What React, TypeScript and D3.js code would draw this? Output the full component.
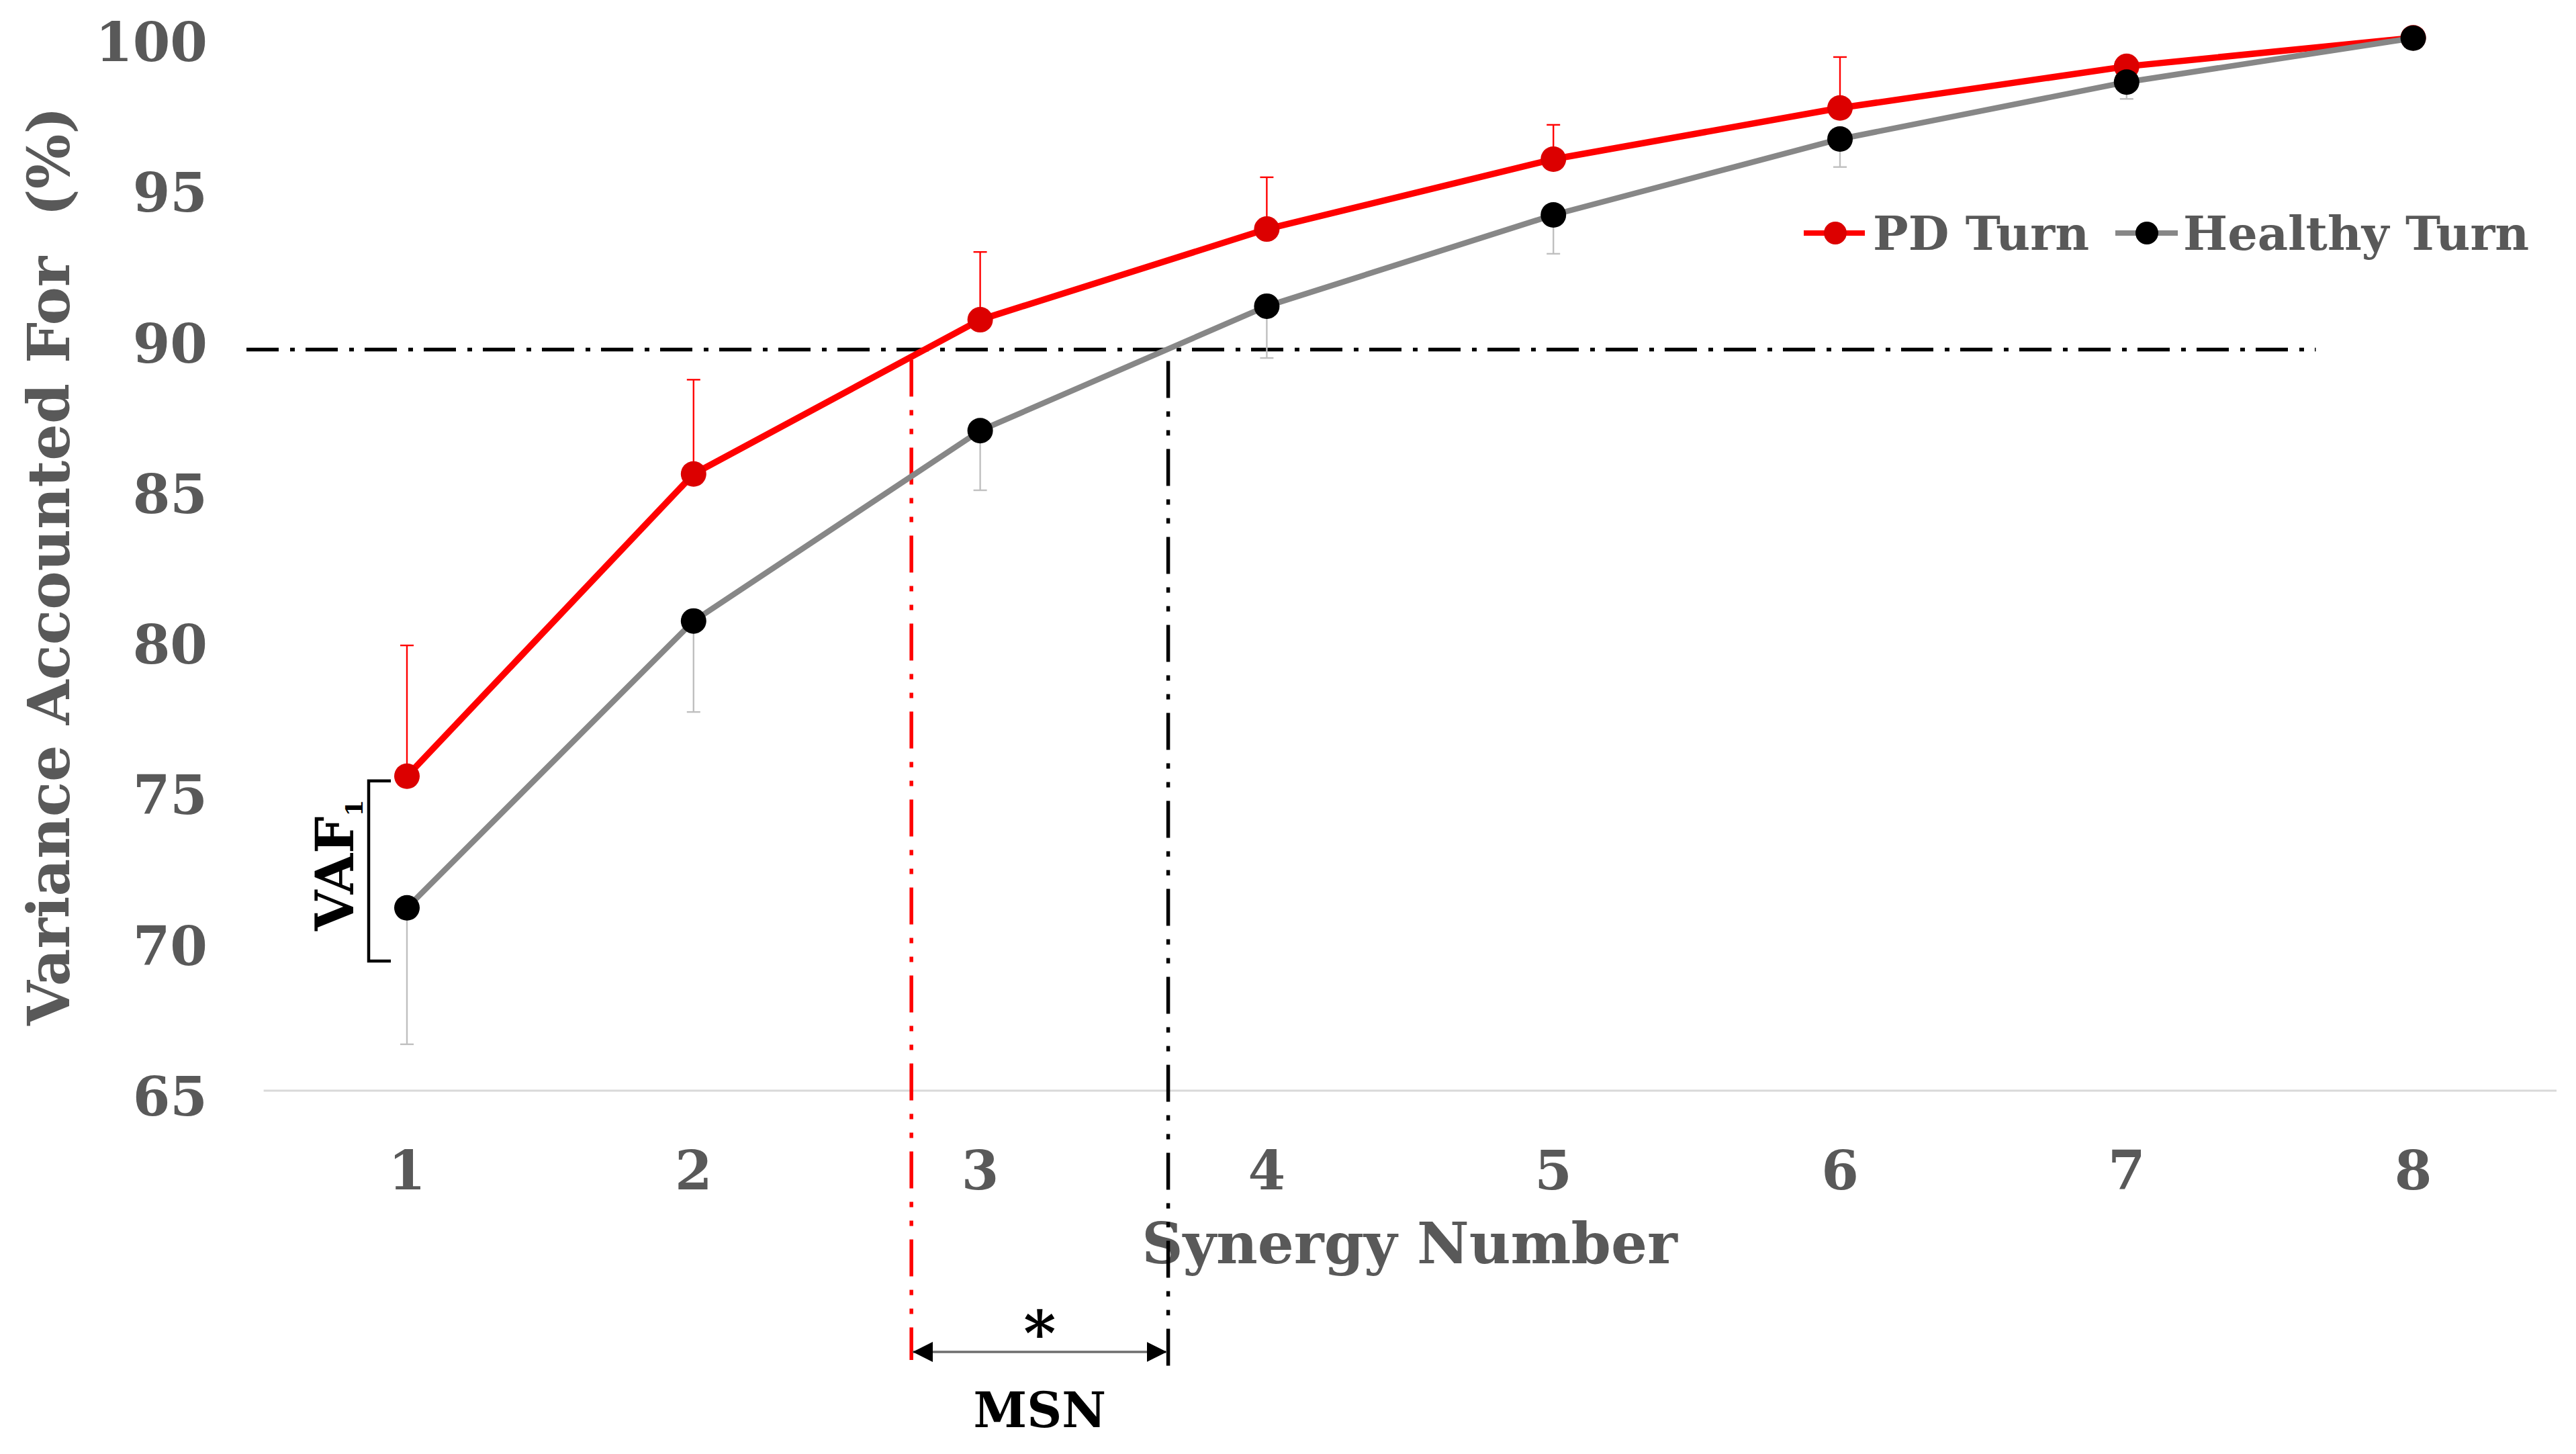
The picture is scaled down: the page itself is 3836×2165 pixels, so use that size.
import * as d3 from "d3";

const WIDTH = 3836;
const HEIGHT = 2165;

// Synergy count on the x axis, VAF (%) per group
const SYNERGY = [1, 2, 3, 4, 5, 6, 7, 8];
const PD_VAF = [75.44, 85.47, 90.59, 93.6, 95.92, 97.62, 99.0, 99.95];
const PD_SD = [4.34, 3.13, 2.25, 1.72, 1.14, 1.69, 0.3, 0];
const HEALTHY_VAF = [71.07, 80.59, 86.91, 91.04, 94.07, 96.59, 98.48, 99.94];
const HEALTHY_SD = [4.53, 3.02, 1.98, 1.72, 1.29, 0.93, 0.56, 0];
const Y_TICKS = [65, 70, 75, 80, 85, 90, 95, 100];

// 90% threshold guide and the synergy number where each curve crosses it
const THRESHOLD = 89.6;
const THRESHOLD_SPAN = [0.44, 7.66];
const PD_MSN = 2.76;
const HEALTHY_MSN = 3.656;
const VAF1_BRACKET = [75.28, 69.3];

const FONT = "'DejaVu Serif', Georgia, serif";
const TEXT_GREY = "#595959";
const RED = "#ff0000";
const RED_MARK = "#dc0000";
const GREY_LINE = "#878787";
const GREY_BAR = "#bfbfbf";

const x = d3.scalePoint<number>().domain(SYNERGY).range([392.6, 3807]).padding(0.5);
const xv = d3
  .scaleLinear()
  .domain([1, 8])
  .range([x(1) as number, x(8) as number]);
const y = d3.scaleLinear().domain([65, 100]).range([1624, 54]);

const line = d3
  .line<number>()
  .x((_, i) => x(SYNERGY[i]) as number)
  .y((d) => y(d));

function ErrorBars({ values, sd, dir, color }: { values: number[]; sd: number[]; dir: 1 | -1; color: string }) {
  return (
    <g stroke={color} strokeWidth={2.4}>
      {values.map((v, i) => {
        if (sd[i] <= 0) return null;
        const cx = x(SYNERGY[i]) as number;
        const end = y(v + dir * sd[i]);
        return (
          <g key={i}>
            <line x1={cx} x2={cx} y1={y(v)} y2={end} />
            <line x1={cx - 10} x2={cx + 10} y1={end} y2={end} />
          </g>
        );
      })}
    </g>
  );
}

function Series({ values, lineColor, markColor, width }: { values: number[]; lineColor: string; markColor: string; width: number }) {
  return (
    <g>
      <path d={line(values) ?? ""} fill="none" stroke={lineColor} strokeWidth={width} strokeLinejoin="round" />
      {values.map((v, i) => (
        <circle key={i} cx={x(SYNERGY[i])} cy={y(v)} r={19} fill={markColor} />
      ))}
    </g>
  );
}

export default function App() {
  const arrowY = 2013;
  const redX = xv(PD_MSN);
  const blackX = xv(HEALTHY_MSN);
  const bracketX = 549;

  return (
    <svg
      width={WIDTH}
      height={HEIGHT}
      viewBox={`0 0 ${WIDTH} ${HEIGHT}`}
      style={{ position: "absolute", left: 0, top: 0, background: "#fff" }}
      fontFamily={FONT}
      fontWeight="bold"
    >
      <defs>
        <marker id="head" viewBox="0 0 10 10" refX="10" refY="5" markerWidth="30" markerHeight="30" markerUnits="userSpaceOnUse" orient="auto-start-reverse">
          <path d="M0,0 L10,5 L0,10 Z" fill="#000" />
        </marker>
      </defs>
      <rect width={WIDTH} height={HEIGHT} fill="#fff" />

      {/* baseline at 65 */}
      <line x1={392.6} x2={3807} y1={y(65)} y2={y(65)} stroke="#d9d9d9" strokeWidth={3} />

      {/* y tick labels */}
      <g fill={TEXT_GREY} fontSize={80} textAnchor="end">
        {Y_TICKS.map((t) => (
          <text key={t} x={309} y={y(t) + 37}>
            {t}
          </text>
        ))}
      </g>

      {/* x tick labels */}
      <g fill={TEXT_GREY} fontSize={80} textAnchor="middle">
        {SYNERGY.map((s) => (
          <text key={s} x={x(s)} y={1771}>
            {s}
          </text>
        ))}
      </g>

      <text
        transform="translate(103, 843) rotate(-90)"
        textAnchor="middle"
        fontSize={86}
        fill={TEXT_GREY}
        style={{ whiteSpace: "pre" }}
      >
        {"Variance Accounted For  (%)"}
      </text>
      <text x={2099} y={1850 + 31} textAnchor="middle" fontSize={85} fill={TEXT_GREY}>
        Synergy Number
      </text>

      {/* threshold and crossing guides */}
      <line
        x1={xv(THRESHOLD_SPAN[0])}
        x2={xv(THRESHOLD_SPAN[1])}
        y1={y(THRESHOLD)}
        y2={y(THRESHOLD)}
        stroke="#000"
        strokeWidth={5.5}
        strokeDasharray="48 17 7 16"
      />
      <line x1={redX} x2={redX} y1={y(THRESHOLD) + 15} y2={arrowY + 12} stroke={RED} strokeWidth={5.5} strokeDasharray="55 20 8 20 8 20" />
      <line x1={blackX} x2={blackX} y1={y(THRESHOLD) + 17} y2={2043} stroke="#000" strokeWidth={5.5} strokeDasharray="55 20 8 20 8 20" />

      <ErrorBars values={PD_VAF} sd={PD_SD} dir={1} color={RED} />
      <ErrorBars values={HEALTHY_VAF} sd={HEALTHY_SD} dir={-1} color={GREY_BAR} />
      <Series values={PD_VAF} lineColor={RED} markColor={RED_MARK} width={9.5} />
      <Series values={HEALTHY_VAF} lineColor={GREY_LINE} markColor="#000" width={8.5} />

      {/* VAF1 bracket */}
      <path
        d={`M${bracketX + 33},${y(VAF1_BRACKET[0])} H${bracketX} V${y(VAF1_BRACKET[1])} H${bracketX + 33}`}
        fill="none"
        stroke="#000"
        strokeWidth={4.5}
      />
      <text transform={`translate(526, 1386) rotate(-90)`} fontSize={78} fill="#000">
        VAF
        <tspan fontSize={36} dy={14}>
          1
        </tspan>
      </text>

      {/* MSN difference */}
      <line
        x1={redX + 2}
        x2={blackX - 2}
        y1={arrowY}
        y2={arrowY}
        stroke="#6e6e6e"
        strokeWidth={3.5}
        markerStart="url(#head)"
        markerEnd="url(#head)"
      />
      <text x={(redX + blackX) / 2} y={2018} textAnchor="middle" fontSize={92} fill="#000">
        *
      </text>
      <text x={(redX + blackX) / 2} y={2099 + 26} textAnchor="middle" fontSize={72} fill="#000">
        MSN
      </text>

      {/* legend */}
      <g>
        <line x1={2686} x2={2777} y1={347} y2={347} stroke={RED} strokeWidth={8} />
        <circle cx={2733} cy={347} r={17} fill={RED_MARK} />
        <text x={2789} y={372} fontSize={70} fill={TEXT_GREY}>
          PD Turn
        </text>
        <line x1={3150} x2={3243} y1={347} y2={347} stroke={GREY_LINE} strokeWidth={8} />
        <circle cx={3197} cy={347} r={17} fill="#000" />
        <text x={3251} y={372} fontSize={70} fill={TEXT_GREY}>
          Healthy Turn
        </text>
      </g>
    </svg>
  );
}
